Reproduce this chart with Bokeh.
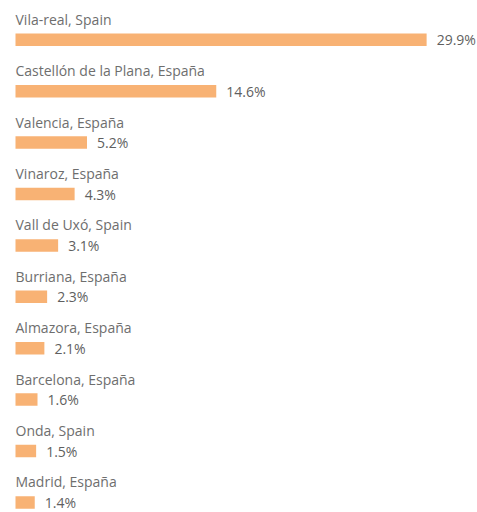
from bokeh.plotting import figure
from bokeh.models import ColumnDataSource, Range1d
from bokeh.core.properties import value
from bokeh.embed import file_html
from bokeh.resources import INLINE

cities = ["Vila-real, Spain", "Castellón de la Plana, España", "Valencia, España",
          "Vinaroz, España", "Vall de Uxó, Spain", "Burriana, España",
          "Almazora, España", "Barcelona, España", "Onda, Spain", "Madrid, España"]
pct = [29.9, 14.6, 5.2, 4.3, 3.1, 2.3, 2.1, 1.6, 1.5, 1.4]

idx = list(range(len(cities)))
src = ColumnDataSource(dict(
    y=idx,
    ylab=[i - 0.399 for i in idx],
    pct=pct,
    city=cities,
    txt=[f"{v:.1f}%" for v in pct],
))

W, H = 477, 512
PX_PER_PCT = 13.75
ROW = 51.4
p = figure(width=W, height=H, output_backend="svg", toolbar_location=None,
           x_range=Range1d(-15 / PX_PER_PCT, -15 / PX_PER_PCT + W / PX_PER_PCT),
           y_range=Range1d((H - 39.3) / ROW, -39.3 / ROW),
           min_border=0, outline_line_color=None)
p.axis.visible = False
p.grid.visible = False
p.background_fill_color = "white"
p.border_fill_color = "white"

p.hbar(y="y", left=0, right="pct", height=0.243, source=src,
       fill_color="#F8B274", line_color=None)
p.text(x=0, y="ylab", text="city", source=src, text_font=value("Open Sans"),
       text_font_size="14px", text_color="#6e6e6e", text_baseline="middle",
       text_align="left")
p.text(x="pct", y="y", text="txt", source=src, text_font=value("Open Sans"),
       text_font_size="14px", text_color="#5f5f5f", text_baseline="middle",
       text_align="left", x_offset=10)

open("out.html", "w").write(file_html(p, INLINE))
